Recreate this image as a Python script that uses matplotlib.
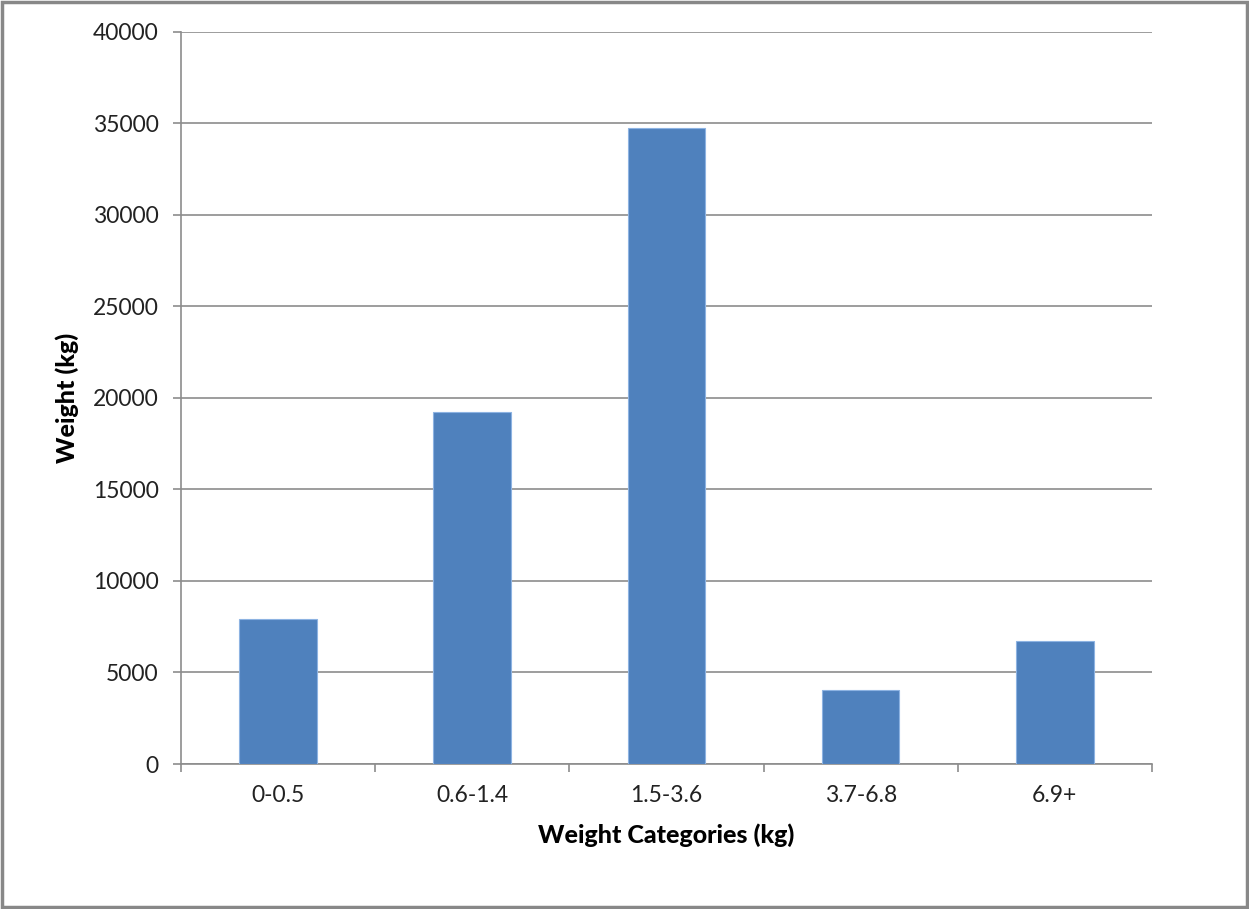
import matplotlib.pyplot as plt
from matplotlib.patches import Rectangle

categories = ["0-0.5", "0.6-1.4", "1.5-3.6", "3.7-6.8", "6.9+"]
weights = [7900, 19250, 34750, 4050, 6700]  # kg per category
yticks = [0, 5000, 10000, 15000, 20000, 25000, 30000, 35000, 40000]

plt.rcParams['font.family'] = ['Lato', 'DejaVu Sans']

fig = plt.figure(figsize=(12.49, 9.09), dpi=100)
ax = fig.add_axes([0.1449, 0.1595, 0.9223 - 0.1449, 0.9651 - 0.1595])

x = list(range(len(categories)))
ax.bar(x, weights, width=0.4, color="#4F81BD", edgecolor="#8DB3E2",
       linewidth=0.8, zorder=3)

ax.set_xlim(-0.5, len(categories) - 0.5)
ax.set_ylim(0, 40000)
ax.set_yticks(yticks)
ax.set_yticklabels([str(t) for t in yticks])
ax.grid(axis="y", color="#8C8C8C", linewidth=1.2, zorder=0)

# category labels centred, ticks on the boundaries
ax.set_xticks(x)
ax.set_xticklabels(categories)
ax.tick_params(axis="x", which="major", length=0, pad=15, labelsize=16.5,
               labelcolor="#222222")
ax.set_xticks([i - 0.5 for i in range(len(categories) + 1)], minor=True)
ax.tick_params(axis="x", which="minor", length=6, width=1.2, color="#8C8C8C")
ax.tick_params(axis="y", length=6, width=1.2, color="#8C8C8C", pad=10,
               labelsize=16.5, labelcolor="#222222")

for s in ["top", "right"]:
    ax.spines[s].set_visible(False)
for s in ["left", "bottom"]:
    ax.spines[s].set_color("#8C8C8C")
    ax.spines[s].set_linewidth(1.2)

ax.set_xlabel("Weight Categories (kg)", fontsize=18, fontweight="black",
              labelpad=13)
ax.set_ylabel("Weight (kg)", fontsize=18, fontweight="black", labelpad=10)

fig.patches.append(Rectangle((0.002, 0.002), 0.996, 0.996,
                             transform=fig.transFigure, fill=False,
                             edgecolor="#888888", linewidth=2.5))

fig.savefig("out.png", dpi=100)
